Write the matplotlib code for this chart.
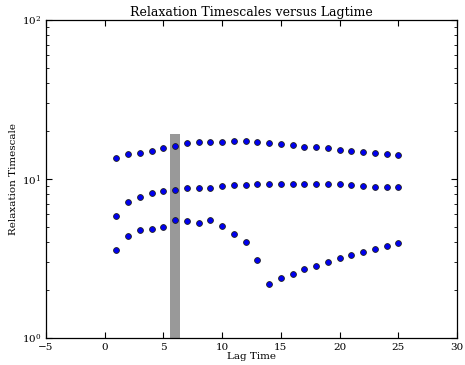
import matplotlib
matplotlib.use("Agg")
import matplotlib.pyplot as plt
import numpy as np

lag_times = list(range(1, 26))
ts_top = [13.6, 14.3, 14.5, 15.1, 15.7, 16.1, 16.8, 17.0, 17.0, 17.0, 17.3, 17.3, 17.0,
          16.9, 16.6, 16.3, 16.0, 15.9, 15.6, 15.2, 14.9, 14.8, 14.6, 14.4, 14.1]
ts_mid = [5.88, 7.13, 7.71, 8.13, 8.37, 8.57, 8.78, 8.82, 8.82, 9.0, 9.12, 9.15, 9.26,
          9.26, 9.26, 9.26, 9.26, 9.3, 9.33, 9.26, 9.15, 9.07, 8.95, 8.87, 8.87]
ts_bot = [3.58, 4.40, 4.80, 4.85, 5.01, 5.50, 5.44, 5.26, 5.50, 5.06, 4.49, 4.02, 3.09,
          2.18, 2.37, 2.54, 2.71, 2.85, 3.01, 3.17, 3.33, 3.47, 3.64, 3.81, 3.96]
chosen_lag = 6
bar_top = 19.3

plt.rcParams['font.family'] = ['DejaVu Serif']

fig = plt.figure(figsize=(4.65, 3.65), dpi=100)
ax = fig.add_axes([46/465, 1-338/365, 411/465, 318/365])

ax.bar(chosen_lag, bar_top - 1, bottom=1, width=0.8, color='#999999', zorder=1)
for series in (ts_top, ts_mid, ts_bot):
    ax.plot(lag_times, series, linestyle='none', marker='o', markersize=4.2,
            markerfacecolor='#0000f0', markeredgecolor='#202020', markeredgewidth=0.6, zorder=3)

ax.set_yscale('log')
ax.set_xlim(-5, 30)
ax.set_ylim(1, 100)
ax.set_xticks([-5, 0, 5, 10, 15, 20, 25, 30])
ax.tick_params(which='both', direction='in', top=True, right=True, labelsize=7.5)
ax.tick_params(which='major', length=4, width=0.8)
ax.tick_params(which='minor', length=2, width=0.6)
for s in ax.spines.values():
    s.set_linewidth(0.9)

ax.set_title('Relaxation Timescales versus Lagtime', fontsize=9, pad=3)
ax.set_xlabel('Lag Time', fontsize=7.5, labelpad=0)
ax.set_ylabel('Relaxation Timescale', fontsize=7.5, labelpad=3)

fig.savefig('out.png', dpi=100)
